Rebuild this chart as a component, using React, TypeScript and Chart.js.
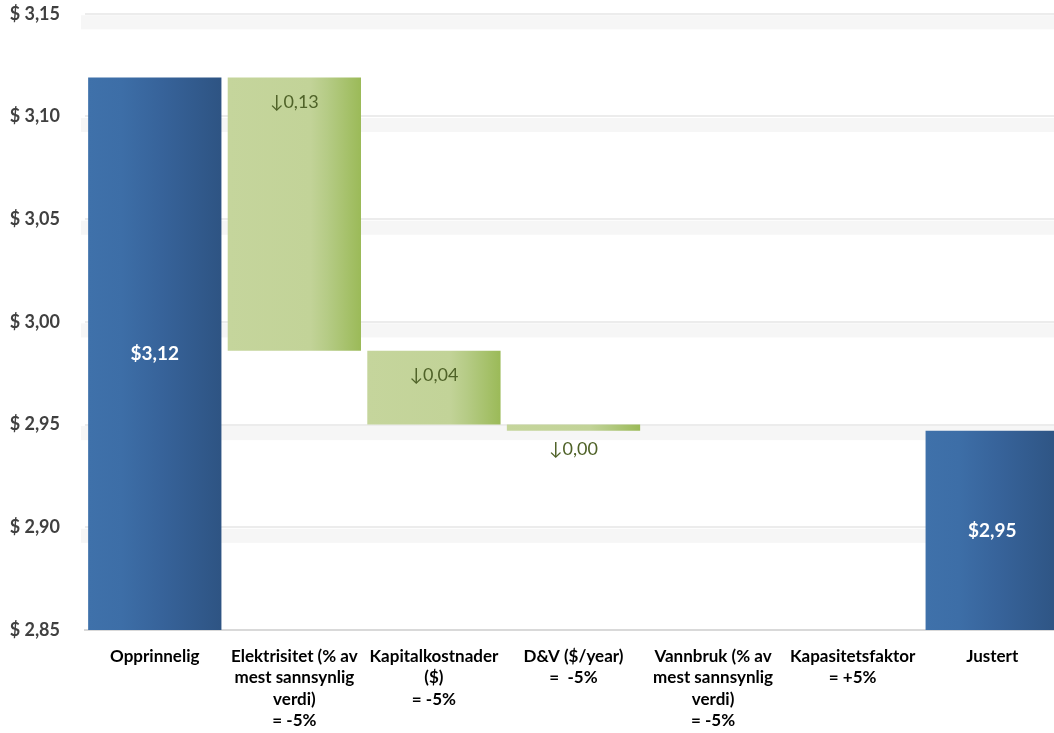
import React, { useEffect, useRef } from "react";
import { Chart, registerables } from "chart.js";

Chart.register(...registerables);

const categories: string[][] = [
  ["Opprinnelig"],
  ["Elektrisitet (% av", "mest sannsynlig", "verdi)", "= -5%"],
  ["Kapitalkostnader", "($)", "= -5%"],
  ["D&V ($/year)", "=  -5%"],
  ["Vannbruk (% av", "mest sannsynlig", "verdi)", "= -5%"],
  ["Kapasitetsfaktor", "= +5%"],
  ["Justert"],
];
const startValue = 3.119;
const changes = [-0.133, -0.036, -0.003, 0, 0];
const endValue = 2.947;
const yTicks = [2.85, 2.9, 2.95, 3.0, 3.05, 3.1, 3.15];

const Y_MIN = 2.85;
const Y_MAX = 3.15;
const BAR_FRACTION = 0.955;
const FONT = "Lato, 'Open Sans', sans-serif";
const SHIFT = 22;

function fmt(v: number) {
  return v.toFixed(2).replace(".", ",");
}

function buildRanges(): number[][] {
  const out: number[][] = [[Y_MIN, startValue]];
  let level = startValue;
  for (const c of changes) {
    const next = level + c;
    out.push([Math.min(level, next), Math.max(level, next)]);
    level = next;
  }
  out.push([Y_MIN, endValue]);
  return out;
}

const isTotal = (i: number) => i === 0 || i === categories.length - 1;

function makeFill(ctx: any) {
  const chart = ctx.chart;
  const i = ctx.dataIndex;
  if (i === undefined) return "#3a68a0";
  const total = isTotal(i);
  const fallback = total ? "#3a68a0" : "#c4d49b";
  if (!chart.chartArea || !chart.scales.x) return fallback;
  const xs = chart.scales.x;
  const cx = xs.getPixelForValue(i);
  const w = (xs.width / categories.length) * BAR_FRACTION;
  const g = chart.ctx.createLinearGradient(cx - w / 2, 0, cx + w / 2, 0);
  if (total) {
    g.addColorStop(0, "#3f71aa");
    g.addColorStop(0.25, "#3d6ea7");
    g.addColorStop(0.55, "#37639a");
    g.addColorStop(1, "#2e5483");
  } else {
    g.addColorStop(0, "#c5d59c");
    g.addColorStop(0.62, "#c2d398");
    g.addColorStop(0.75, "#b5cb85");
    g.addColorStop(1, "#9bba58");
  }
  return g;
}

const bandPlugin = {
  id: "bands",
  beforeDatasetsDraw(chart: any) {
    const { ctx, chartArea } = chart;
    const ys = chart.scales.y;
    ctx.save();
    ctx.fillStyle = "#f6f6f6";
    for (const v of yTicks) {
      if (v <= Y_MIN) continue;
      const y = ys.getPixelForValue(v);
      ctx.fillRect(chartArea.left - 4, y + 1.5, chartArea.right - chartArea.left + 4, 14);
    }
    ctx.restore();
  },
};

const labelPlugin = {
  id: "barLabels",
  afterDatasetsDraw(chart: any) {
    const { ctx } = chart;
    const meta = chart.getDatasetMeta(0);
    ctx.save();
    ctx.textAlign = "center";
    ctx.textBaseline = "middle";
    meta.data.forEach((el: any, i: number) => {
      const top = Math.min(el.y, el.base);
      const bottom = Math.max(el.y, el.base);
      if (isTotal(i)) {
        const v = i === 0 ? startValue : endValue;
        ctx.fillStyle = "#ffffff";
        ctx.font = `bold 19px ${FONT}`;
        ctx.fillText("$" + fmt(v), el.x, (top + bottom) / 2);
      } else {
        const c = changes[i - 1];
        if (c === 0) return;
        ctx.fillStyle = "#4f6228";
        ctx.font = `18px ${FONT}`;
        ctx.fillText((c < 0 ? "\u2193" : "\u2191") + fmt(Math.abs(c)), el.x, top + 25);
      }
    });
    ctx.restore();
  },
};

export default function App() {
  const ref = useRef<HTMLCanvasElement | null>(null);
  useEffect(() => {
    if (!ref.current) return;
    const chart = new Chart(ref.current, {
      type: "bar",
      data: {
        labels: categories,
        datasets: [
          {
            data: buildRanges() as any,
            backgroundColor: makeFill,
            borderWidth: 0,
            barPercentage: 1,
            categoryPercentage: BAR_FRACTION,
          },
        ],
      },
      options: {
        responsive: false,
        animation: false,
        layout: { padding: { top: 0, left: 0, right: 0, bottom: 0 } },
        plugins: { legend: { display: false }, tooltip: { enabled: false } },
        scales: {
          x: {
            grid: { display: false, drawTicks: false },
            border: { display: true, color: "#d9d9d9", width: 2 },
            ticks: {
              color: "#000000",
              font: { family: FONT, size: 17, weight: "bold", lineHeight: 1.25 },
              padding: 16,
              maxRotation: 0,
              autoSkip: false,
            },
            afterFit: (s: any) => {
              s.height = 103;
            },
          },
          y: {
            min: Y_MIN,
            max: Y_MAX,
            border: { display: false },
            grid: {
              drawTicks: false,
              color: (c: any) => (c.tick && c.tick.value <= Y_MIN ? "#d9d9d9" : "#ececec"),
              lineWidth: 2,
            },
            afterBuildTicks: (s: any) => {
              s.ticks = yTicks.map((v) => ({ value: v }));
            },
            ticks: {
              color: "#404040",
              font: { family: FONT, size: 18, weight: "bold" },
              padding: 25,
              callback: (v: any) => "$ " + fmt(Number(v)),
            },
            afterFit: (s: any) => {
              s.width = 85;
            },
          },
        },
      },
      plugins: [bandPlugin, labelPlugin],
    });
    return () => chart.destroy();
  }, []);

  return (
    <div
      style={{
        position: "fixed",
        left: 0,
        top: 0,
        width: 1054,
        height: 733,
        overflow: "hidden",
        background: "#ffffff",
      }}
    >
      <canvas
        ref={ref}
        width={1062}
        height={733 + SHIFT}
        style={{ width: 1062, height: 733 + SHIFT, display: "block", position: "absolute", left: 0, top: -SHIFT }}
      />
    </div>
  );
}
